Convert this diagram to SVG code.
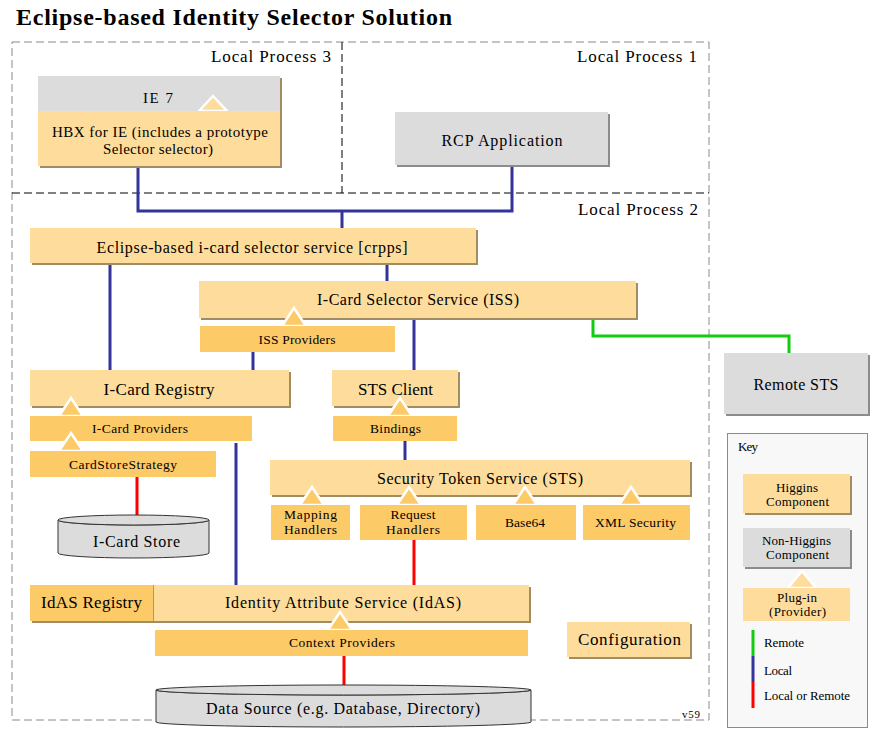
<svg xmlns="http://www.w3.org/2000/svg" width="880" height="735" viewBox="0 0 880 735">
<style>
.h{fill:#fedd9c}
.p{fill:#fdca68}
.g{fill:#dcdcdc}
.hs{fill:#a08d62}
.gs{fill:#8c8c8c}
.tri{stroke:#ffffff;stroke-width:2.5;stroke-linejoin:miter}
text{font-family:"Liberation Serif","Times New Roman",serif;fill:#000}
.t{text-anchor:middle;font-size:16px}
.s{text-anchor:middle;font-size:13.5px}
.k{text-anchor:middle;font-size:13px}
.kl{font-size:13px}
.lp{text-anchor:end;font-size:17px}
.loc{stroke:#333399;stroke-width:3;fill:none}
.rem{stroke:#11cc11;stroke-width:3;fill:none}
.lr{stroke:#ff0000;stroke-width:3;fill:none}
.cyl{fill:#dcdcdc;stroke:#333;stroke-width:1}
</style>
<rect width="880" height="735" fill="#ffffff"/>
<text x="16" y="25" textLength="436" style="font-size:24px;font-weight:bold">Eclipse-based Identity Selector Solution</text>

<g id="frames">
<rect x="12" y="42" width="697" height="678" fill="none" stroke="#8a8a8a" stroke-width="1" stroke-dasharray="8,4"/>
<line x1="12" y1="193" x2="709" y2="193" stroke="#000" stroke-width="1" stroke-dasharray="8,4"/>
<line x1="342" y1="42" x2="342" y2="193" stroke="#000" stroke-width="1" stroke-dasharray="8,4"/>
<text class="lp" x="331" y="62" textLength="120">Local Process 3</text>
<text class="lp" x="697" y="62" textLength="120">Local Process 1</text>
<text class="lp" x="698" y="215" textLength="120">Local Process 2</text>
<text x="700" y="718" textLength="18" style="font-size:11px;text-anchor:end">v59</text>
</g>

<g id="connectors">
<polyline class="loc" points="138,166 138,211 512,211 512,166"/>
<line class="loc" x1="342" y1="211" x2="342" y2="228"/>
<line class="loc" x1="110" y1="263" x2="110" y2="370"/>
<line class="loc" x1="387" y1="263" x2="387" y2="281"/>
<line class="loc" x1="253" y1="352" x2="253" y2="370"/>
<line class="loc" x1="414" y1="318" x2="414" y2="370"/>
<line class="loc" x1="236" y1="443" x2="236" y2="585"/>
<line class="loc" x1="405" y1="441" x2="405" y2="460"/>
<line class="lr" x1="137" y1="477" x2="137" y2="516"/>
<line class="lr" x1="414" y1="540" x2="414" y2="585"/>
<line class="lr" x1="344" y1="656" x2="344" y2="686"/>
<polyline class="rem" points="593,318 593,336 789,336 789,353"/>
</g>

<g id="ie7">
<rect class="hs" x="40" y="78" width="242" height="90"/>
<rect class="g" x="38" y="76" width="242" height="36"/>
<rect class="h" x="38" y="111" width="242" height="55"/>
<text class="t" x="158" y="103" textLength="30" style="font-size:15px">IE 7</text>
</g>
<g id="hbx">
<polygon class="tri h" points="199,111 213,96 227,111"/>
<rect class="h" x="38" y="111" width="242" height="55"/>
<text class="t" x="160" y="137" textLength="216" style="font-size:15px">HBX for IE (includes a prototype</text>
<text class="t" x="158" y="154" textLength="110" style="font-size:15px">Selector selector)</text>
</g>

<g id="rcp">
<rect class="gs" x="397" y="114" width="213" height="53"/>
<rect class="g" x="395" y="112" width="213" height="53"/>
<text class="t" x="502" y="146" textLength="121">RCP Application</text>
</g>

<g id="crpps">
<rect class="hs" x="32" y="230" width="446" height="35"/>
<rect class="h" x="30" y="228" width="446" height="35"/>
<text class="t" x="252" y="253" textLength="311">Eclipse-based i-card selector service [crpps]</text>
</g>

<g id="iss">
<rect class="hs" x="201" y="283" width="437" height="37"/>
<rect class="h" x="199" y="281" width="437" height="37"/>
<text class="t" x="418" y="305" textLength="202">I-Card Selector Service (ISS)</text>
</g>
<g id="iss-providers">
<polygon class="tri p" points="282,326 294,308 306,326"/>
<rect class="p" x="200" y="326" width="195" height="26"/>
<text class="s" x="297" y="344" textLength="77">ISS Providers</text>
</g>

<g id="remote-sts">
<rect class="gs" x="726" y="355" width="144" height="61"/>
<rect class="g" x="724" y="353" width="144" height="61"/>
<text class="t" x="796" y="390" textLength="85">Remote STS</text>
</g>

<g id="icard-registry">
<rect class="hs" x="32" y="372" width="259" height="36"/>
<rect class="h" x="30" y="370" width="259" height="36"/>
<text class="t" x="159" y="395" textLength="111" style="font-size:17px">I-Card Registry</text>
</g>
<g id="icard-providers">
<polygon class="tri p" points="59,416 71,398 83,416"/>
<rect class="p" x="30" y="416" width="222" height="25"/>
<text class="s" x="140" y="433" textLength="96">I-Card Providers</text>
</g>
<g id="cardstorestrategy">
<polygon class="tri p" points="59,451 71,433 83,451"/>
<rect class="p" x="30" y="451" width="186" height="26"/>
<text class="s" x="123" y="469" textLength="108">CardStoreStrategy</text>
</g>
<g id="icard-store">
<path class="cyl" d="M58,520 A75.5,5 0 0 0 209,520 L209,553 A75.5,5 0 0 1 58,553 Z"/>
<ellipse class="cyl" cx="133.5" cy="520" rx="75.5" ry="5"/>
<text class="t" x="136.5" y="547" textLength="87">I-Card Store</text>
</g>

<g id="sts-client">
<rect class="hs" x="334" y="372" width="126" height="36"/>
<rect class="h" x="332" y="370" width="126" height="36"/>
<text class="t" x="395.5" y="395" textLength="75" style="font-size:17px">STS Client</text>
</g>
<g id="bindings">
<polygon class="tri p" points="388,416 400,398 412,416"/>
<rect class="p" x="333" y="416" width="124" height="25"/>
<text class="s" x="395.5" y="433" textLength="51">Bindings</text>
</g>

<g id="sts">
<rect class="hs" x="272" y="462" width="420" height="35"/>
<rect class="h" x="270" y="460" width="420" height="35"/>
<text class="t" x="480" y="484" textLength="206">Security Token Service (STS)</text>
</g>
<g id="mapping-handlers">
<polygon class="tri p" points="300,505 312,487 324,505"/>
<rect class="p" x="271" y="505" width="79" height="35"/>
<text class="s" x="310.5" y="519" textLength="53">Mapping</text>
<text class="s" x="310.5" y="534" textLength="53">Handlers</text>
</g>
<g id="request-handlers">
<polygon class="tri p" points="397,505 409,487 421,505"/>
<rect class="p" x="360" y="505" width="107" height="35"/>
<text class="s" x="413" y="519" textLength="45">Request</text>
<text class="s" x="413" y="534" textLength="54">Handlers</text>
</g>
<g id="base64">
<polygon class="tri p" points="513,505 525,487 537,505"/>
<rect class="p" x="476" y="505" width="100" height="35"/>
<text class="s" x="525" y="527" textLength="40">Base64</text>
</g>
<g id="xml-security">
<polygon class="tri p" points="619,505 631,487 643,505"/>
<rect class="p" x="583" y="505" width="107" height="35"/>
<text class="s" x="635.5" y="527" textLength="81">XML Security</text>
</g>

<g id="idas">
<rect class="hs" x="32" y="587" width="499" height="36"/>
<rect class="p" x="30" y="585" width="123" height="36"/>
<rect class="h" x="153" y="585" width="376" height="36"/>
<line x1="153.5" y1="585" x2="153.5" y2="621" stroke="#b59a60" stroke-width="1"/>
<text class="t" x="91.5" y="608" textLength="101" style="font-size:17px">IdAS Registry</text>
<text class="t" x="343" y="608" textLength="236">Identity Attribute Service (IdAS)</text>
</g>
<g id="context-providers">
<polygon class="tri p" points="328,630 340,612 352,630"/>
<rect class="p" x="155" y="630" width="373" height="26"/>
<text class="s" x="342" y="647" textLength="106">Context Providers</text>
</g>
<g id="data-source">
<path class="cyl" d="M156,690 A187.5,5 0 0 0 531,690 L531,722 A187.5,5 0 0 1 156,722 Z"/>
<ellipse class="cyl" cx="343.5" cy="690" rx="187.5" ry="5"/>
<text class="t" x="343" y="714" textLength="274">Data Source (e.g. Database, Directory)</text>
</g>

<g id="configuration">
<rect class="hs" x="569" y="624" width="123" height="35"/>
<rect class="h" x="567" y="622" width="123" height="35"/>
<text class="t" x="629.5" y="645" textLength="103" style="font-size:17px">Configuration</text>
</g>

<g id="key">
<rect x="727.5" y="433.5" width="140" height="294" fill="#f8f8f8" stroke="#8a8a8a" stroke-width="1"/>
<text class="kl" x="738" y="451" textLength="20">Key</text>
<rect class="hs" x="745" y="476" width="107" height="39"/>
<rect class="h" x="743" y="474" width="107" height="39"/>
<text class="k" x="797" y="492" textLength="42">Higgins</text>
<text class="k" x="797.5" y="506" textLength="63">Component</text>
<rect class="gs" x="745" y="530" width="107" height="39"/>
<rect class="g" x="743" y="528" width="107" height="39"/>
<text class="k" x="796.5" y="545" textLength="69">Non-Higgins</text>
<text class="k" x="797.5" y="559" textLength="63">Component</text>
<polygon class="tri h" points="788,588 802,571 816,588"/>
<rect class="h" x="743" y="588" width="107" height="33"/>
<text class="k" x="797" y="602" textLength="40">Plug-in</text>
<text class="k" x="797.5" y="616" textLength="57">(Provider)</text>
<line class="rem" x1="753" y1="630" x2="753" y2="656"/>
<line class="loc" x1="753" y1="656" x2="753" y2="682"/>
<line class="lr" x1="753" y1="682" x2="753" y2="708"/>
<text class="kl" x="764" y="647" textLength="40">Remote</text>
<text class="kl" x="764" y="675" textLength="28">Local</text>
<text class="kl" x="764" y="700" textLength="86">Local or Remote</text>
</g>
</svg>
